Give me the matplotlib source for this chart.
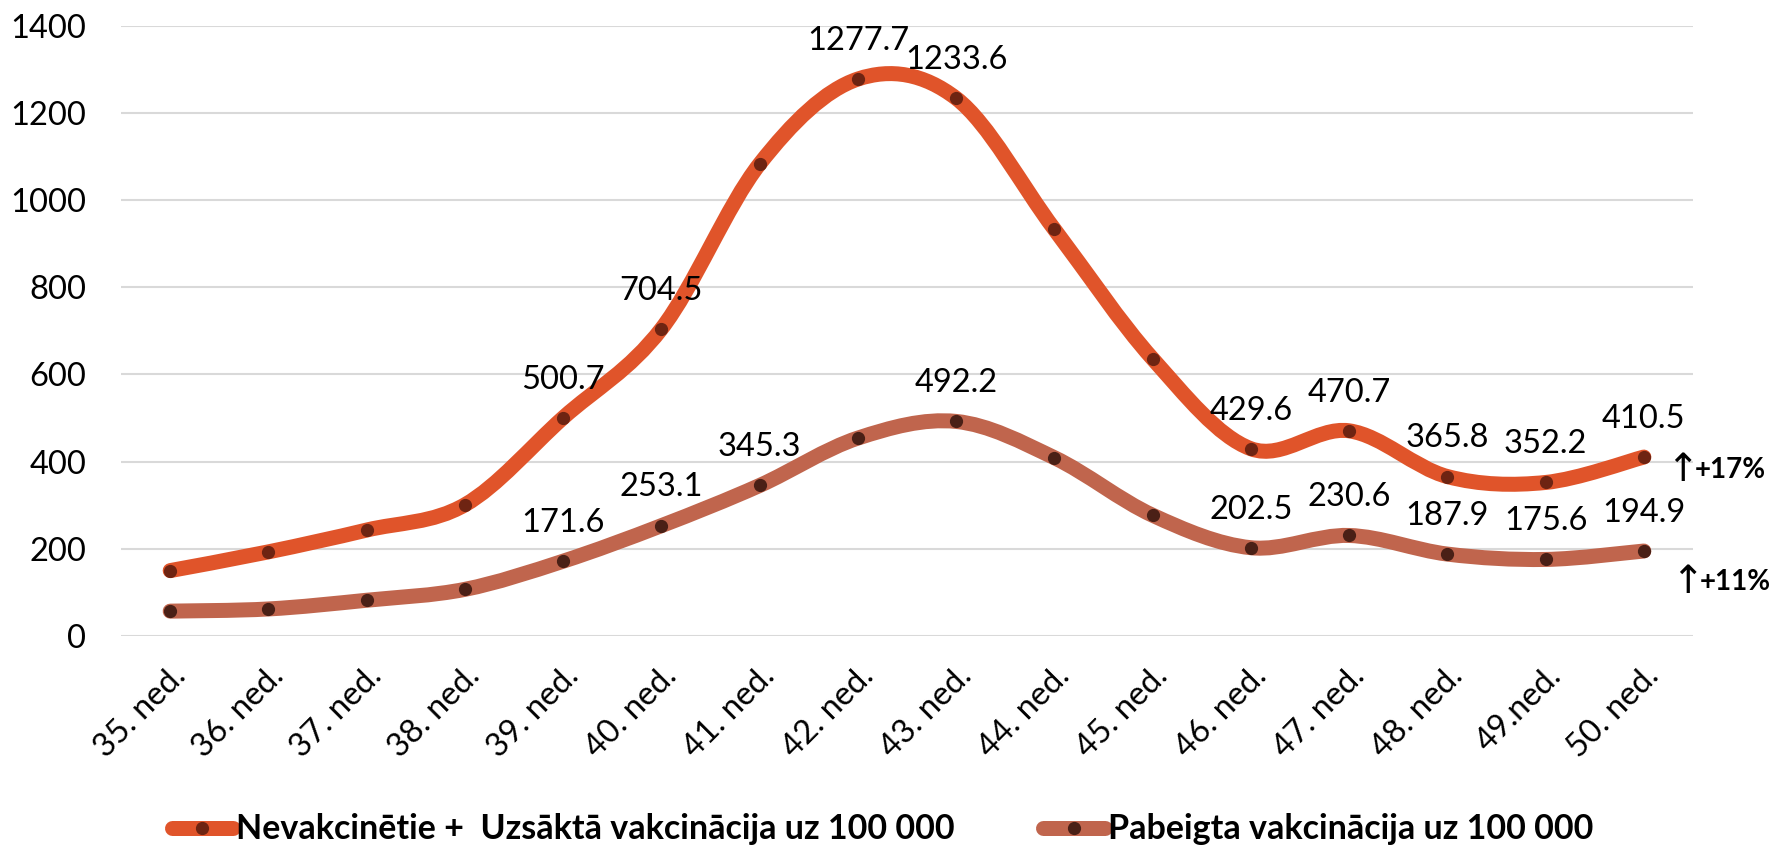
import numpy as np
import matplotlib.pyplot as plt
from matplotlib.path import Path
from matplotlib.patches import PathPatch
from matplotlib.lines import Line2D

plt.rcParams['font.family'] = ['Lato', 'DejaVu Sans']

weeks = ["35. ned.", "36. ned.", "37. ned.", "38. ned.", "39. ned.", "40. ned.",
         "41. ned.", "42. ned.", "43. ned.", "44. ned.", "45. ned.", "46. ned.",
         "47. ned.", "48. ned.", "49.ned.", "50. ned."]

# Nevakcinētie + Uzsāktā vakcinācija uz 100 000
unvacc = [150, 193, 243, 301, 500.7, 704.5, 1083, 1277.7, 1233.6, 933, 636,
          429.6, 470.7, 365.8, 352.2, 410.5]
unvacc_labeled = [4, 5, 7, 8, 11, 12, 13, 14, 15]

# Pabeigta vakcinācija uz 100 000
vacc = [57, 62, 82, 107, 171.6, 253.1, 345.3, 454, 492.2, 409, 277,
        202.5, 230.6, 187.9, 175.6, 194.9]
vacc_labeled = [4, 5, 6, 8, 11, 12, 13, 14, 15]

names = ["Nevakcinētie +  Uzsāktā vakcinācija uz 100 000",
         "Pabeigta vakcinācija uz 100 000"]
changes = ["+17%", "+11%"]

c_orange = "#E0542A"
c_brown = "#C0654D"
m_orange = "#6E2412"
m_brown = "#4A2016"


def smooth_path(x, y):
    # excel-like smoothed line: cubic bezier segments (catmull-rom control points)
    pts = np.column_stack([x, y]).astype(float)
    n = len(pts)
    verts = [pts[0]]
    codes = [Path.MOVETO]
    for i in range(n - 1):
        p0 = pts[max(i - 1, 0)]
        p1 = pts[i]
        p2 = pts[i + 1]
        p3 = pts[min(i + 2, n - 1)]
        c1 = p1 + (p2 - p0) / 6.0
        c2 = p2 - (p3 - p1) / 6.0
        verts += [c1, c2, p2]
        codes += [Path.CURVE4] * 3
    return Path(verts, codes)


fig = plt.figure(figsize=(17.83, 8.49), dpi=100)
ax = fig.add_axes([0.0679, 0.2509, 0.8816, 0.7188])

x = np.arange(len(weeks))
lw = 10.8
fs = 23.5

for vals, col, mcol, lab_idx in [(unvacc, c_orange, m_orange, unvacc_labeled),
                                 (vacc, c_brown, m_brown, vacc_labeled)]:
    patch = PathPatch(smooth_path(x, vals), facecolor="none", edgecolor=col,
                      lw=lw, capstyle="round", joinstyle="round", zorder=3)
    ax.add_patch(patch)
    ax.plot(x, vals, ls="none", marker="o", ms=8.5, color=mcol, zorder=4)
    for i in lab_idx:
        ax.annotate(f"{vals[i]:.1f}", (x[i], vals[i]), xytext=(0, 27.5),
                    textcoords="offset points", ha="center", va="center",
                    fontsize=fs, color="black", zorder=5)

# change markers at the right end
for vals, txt, dx, dy in [(unvacc, changes[0], 0, -9), (vacc, changes[1], 3, -22)]:
    ax.annotate("↑", (x[-1], vals[-1]), xytext=(28 + dx, dy),
                textcoords="offset points", ha="center", va="center",
                fontsize=28, family="DejaVu Sans", annotation_clip=False)
    ax.annotate(txt, (x[-1], vals[-1]), xytext=(37 + dx, dy),
                textcoords="offset points", ha="left", va="center",
                fontsize=20, fontweight="bold", annotation_clip=False)

ax.set_xlim(-0.5, len(weeks) - 0.5)
ax.set_ylim(0, 1400)
ax.set_yticks(np.arange(0, 1401, 200))
ax.set_xticks(x)
ax.set_xticklabels(weeks, rotation=45, ha="right", rotation_mode="anchor",
                   fontsize=fs)
ax.tick_params(axis="y", labelsize=fs, length=0, pad=25)
ax.tick_params(axis="x", length=0, pad=18)
ax.grid(axis="y", color="#D9D9D9", lw=1.5)
ax.set_axisbelow(True)
for s in ax.spines.values():
    s.set_visible(False)

handles = [Line2D([], [], color=c, lw=lw, solid_capstyle="round", marker="o",
                  ms=8.5, markerfacecolor=m, markeredgecolor=m)
           for c, m in [(c_orange, m_orange), (c_brown, m_brown)]]
fig.legend(handles, names, loc="center", bbox_to_anchor=(0.495, 0.023),
           ncol=2, frameon=False, handlelength=1.8, handletextpad=0.1,
           columnspacing=2.6, prop={"size": 24.5, "weight": "bold"})

fig.savefig("out.png", dpi=100)
